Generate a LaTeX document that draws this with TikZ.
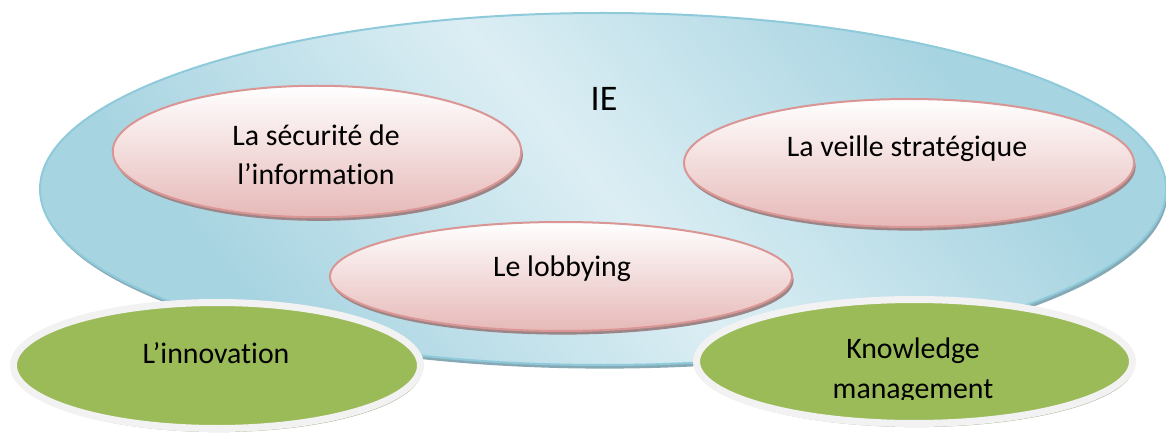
\documentclass[tikz,border=0pt]{standalone}
\usepackage{fontspec}
\setmainfont{Carlito}[Ligatures=NoCommon]
\usetikzlibrary{shapes.geometric,shadows}

\definecolor{blueL}{HTML}{DCEEF4}
\definecolor{blueD}{HTML}{A7D4E1}
\definecolor{blueLine}{HTML}{8FCADB}
\definecolor{blueShadow}{HTML}{86A9B5}
\definecolor{pinkTop}{HTML}{FFFFFF}
\definecolor{pinkBot}{HTML}{E6B9B8}
\definecolor{pinkLine}{HTML}{D99694}
\definecolor{pinkShadow}{HTML}{9C8587}
\definecolor{greenFill}{HTML}{9BBB59}
\definecolor{greenLine}{HTML}{F2F2F2}
\definecolor{greenShadow}{HTML}{A3AC8C}

% diagonal light band across the outer field
\pgfdeclarehorizontalshading{fieldshade}{100bp}{%
  color(0bp)=(blueD); color(28bp)=(blueD); color(50bp)=(blueL);
  color(72bp)=(blueD); color(100bp)=(blueD)}

\tikzset{
  px/.style={x=0.5pt,y=-0.5pt},
  field/.style={ellipse, inner sep=0pt, draw=blueLine, line width=1pt,
    shading=fieldshade, shading angle=40,
    drop shadow={opacity=1, fill=blueShadow, shadow xshift=0.8pt, shadow yshift=-1.8pt}},
  pinkoval/.style={ellipse, inner sep=0pt, draw=pinkLine, line width=1pt,
    top color=pinkTop, bottom color=pinkBot,
    drop shadow={opacity=1, fill=pinkShadow, shadow xshift=0.8pt, shadow yshift=-1.8pt}},
  greenoval/.style={ellipse, inner sep=0pt, draw=greenLine, line width=3.5pt,
    fill=greenFill,
    drop shadow={opacity=1, fill=greenShadow, shadow xshift=0.8pt, shadow yshift=-1.8pt}},
  lbl/.style={anchor=base, inner sep=0pt, align=center, text=black,
    font=\fontsize{14.9pt}{20pt}\selectfont},
}

\begin{document}
\begin{tikzpicture}[px]
\useasboundingbox (0,0) rectangle (1166,438);

% outer field
\node[field, minimum width=563pt, minimum height=176pt] (ie) at (603,189) {};
\node[lbl, font=\fontsize{18pt}{22pt}\selectfont] (ietext) at (604,111) {IE};

% inner topics
\node[pinkoval, minimum width=204.25pt, minimum height=65.75pt] (secu) at (317,151.5) {};
\node[lbl] (secutext) at (316,185) {La sécurité de\\l’information};

\node[pinkoval, minimum width=225pt, minimum height=64pt] (veille) at (909,163) {};
\node[lbl] (veilletext) at (907,157) {La veille stratégique};

\node[pinkoval, minimum width=231pt, minimum height=54.5pt] (lobby) at (561,276.5) {};
\node[lbl] (lobbytext) at (562,276) {Le lobbying};

% neighbouring fields
\node[greenoval, minimum width=203.5pt, minimum height=63pt] (innov) at (217,365.5) {};
\node[lbl] (innovtext) at (216,363) {L’innovation};

\node[greenoval, minimum width=218pt, minimum height=62pt] (km) at (914.5,361.5) {};
\begin{scope}
  \clip (700,290) rectangle (1140,399);
  \node[lbl] (kmtext) at (913,398) {Knowledge\\management};
\end{scope}
\end{tikzpicture}
\end{document}
